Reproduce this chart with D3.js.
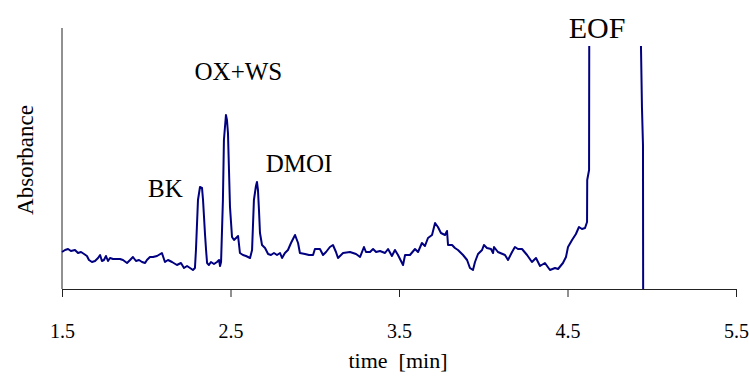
<!DOCTYPE html>
<html>
<head>
<meta charset="utf-8">
<script src="https://cdn.jsdelivr.net/npm/d3@7"></script>
<style>
  body { margin: 0; background: #fff; }
  svg text { font-family: "Liberation Serif", "Times New Roman", serif; }
</style>
</head>
<body>
<div id="chart"></div>
<script>
// electropherogram trace (absorbance in arbitrary units, null = off scale)
const time = [
  1.500, 1.518, 1.536, 1.553, 1.577, 1.595, 1.613, 1.631, 1.648, 1.660,
  1.678, 1.696, 1.714, 1.726, 1.737, 1.749, 1.761, 1.773, 1.785, 1.803,
  1.820, 1.844, 1.862, 1.886, 1.904, 1.921, 1.939, 1.957, 1.975, 1.993,
  2.004, 2.022, 2.040, 2.064, 2.093, 2.111, 2.129, 2.153, 2.182, 2.206,
  2.224, 2.242, 2.260, 2.277, 2.289, 2.295, 2.307, 2.319, 2.331, 2.337,
  2.349, 2.355, 2.361, 2.372, 2.384, 2.402, 2.420, 2.432, 2.438, 2.444,
  2.455, 2.461, 2.473, 2.479, 2.485, 2.491, 2.497, 2.509, 2.521, 2.533,
  2.545, 2.556, 2.574, 2.592, 2.616, 2.628, 2.639, 2.651, 2.657, 2.663,
  2.669, 2.675, 2.687, 2.705, 2.723, 2.740, 2.758, 2.776, 2.794, 2.806,
  2.823, 2.841, 2.859, 2.883, 2.901, 2.912, 2.942, 2.966, 2.990, 3.001,
  3.031, 3.049, 3.067, 3.090, 3.108, 3.126, 3.138, 3.168, 3.209, 3.245,
  3.269, 3.292, 3.304, 3.328, 3.346, 3.364, 3.387, 3.417, 3.435, 3.458,
  3.476, 3.494, 3.524, 3.536, 3.565, 3.595, 3.613, 3.636, 3.654, 3.672,
  3.696, 3.714, 3.731, 3.749, 3.773, 3.785, 3.791, 3.815, 3.832, 3.850,
  3.880, 3.904, 3.921, 3.939, 3.951, 3.969, 3.993, 4.004, 4.022, 4.046,
  4.058, 4.064, 4.087, 4.129, 4.147, 4.171, 4.188, 4.206, 4.230, 4.260,
  4.289, 4.313, 4.337, 4.366, 4.396, 4.426, 4.444, 4.473, 4.491, 4.503,
  4.527, 4.550, 4.568, 4.586, 4.604, 4.616, 4.617, 4.628, 4.629, 4.780,
  4.936, 4.942, 4.948, 4.949
];
const absorbance = [
  37, 39, 40, 38, 39, 36, 37, 35, 33, 29,
  27, 28, 31, 34, 28, 29, 33, 28, 31, 30,
  30, 30, 29, 26, 29, 32, 28, 29, 27, 26,
  29, 32, 32, 33, 36, 27, 29, 27, 24, 26,
  21, 23, 21, 19, 21, 39, 89, 102, 101, 89,
  54, 39, 26, 24, 27, 25, 27, 29, 23, 27,
  89, 149, 174, 169, 156, 119, 82, 52, 49, 51,
  53, 36, 34, 33, 31, 39, 89, 103, 107, 99,
  79, 56, 44, 41, 35, 34, 36, 34, 36, 31,
  36, 39, 46, 54, 46, 36, 35, 34, 34, 40,
  40, 34, 37, 42, 44, 37, 31, 36, 37, 35,
  32, 42, 37, 37, 40, 37, 38, 36, 40, 33,
  39, 34, 24, 34, 34, 40, 37, 46, 43, 51,
  54, 66, 62, 56, 54, 58, 44, 44, 41, 39,
  34, 29, 21, 19, 27, 35, 39, 44, 41, 40,
  36, 42, 37, 34, 29, 37, 42, 40, 40, 34,
  27, 31, 23, 26, 19, 21, 20, 26, 32, 42,
  49, 55, 62, 60, 61, 67, 109, 119, 243, null,
  243, 181, 144, 0
];

const xTicks = [1.5, 2.5, 3.5, 4.5, 5.5];
const xDomain = [1.5, 5.5];
const yDomain = [0, 261];

const peakNames = ['BK', 'OX+WS', 'DMOI', 'EOF'];
const peakAnchorTime = [2.114, 2.547, 2.907, 4.675];
const peakAnchorValue = [92, 209, 117, 251];

const serif = '"Liberation Serif", "Times New Roman", serif';
const width = 749, height = 376;
const margin = { top: 28, right: 13, bottom: 87, left: 62 };

const svg = d3.select('#chart').append('svg')
  .attr('width', width)
  .attr('height', height);

const x = d3.scaleLinear().domain(xDomain).range([margin.left, width - margin.right]);
const y = d3.scaleLinear().domain(yDomain).range([height - margin.bottom, margin.top]);

// x axis
const xAxis = svg.append('g')
  .attr('transform', `translate(0,${y(0)})`)
  .call(d3.axisBottom(x).tickValues(xTicks).tickFormat(d3.format('.1f')).tickSize(8).tickSizeOuter(8).tickPadding(27));
xAxis.attr('font-family', serif);
xAxis.select('.domain').attr('stroke', '#222');
xAxis.selectAll('.tick line').attr('stroke', '#222');
xAxis.selectAll('text').style('font-size', '20px').attr('fill', '#000');

// y axis (no ticks)
svg.append('line')
  .attr('x1', x(xDomain[0])).attr('x2', x(xDomain[0]))
  .attr('y1', y(yDomain[0])).attr('y2', y(yDomain[1]))
  .attr('stroke', '#222');

// trace
const line = d3.line()
  .defined((d, i) => absorbance[i] !== null)
  .x((d, i) => x(time[i]))
  .y((d, i) => y(absorbance[i]));

svg.append('path')
  .datum(time)
  .attr('d', line)
  .attr('fill', 'none')
  .attr('stroke', '#000080')
  .attr('stroke-width', 2)
  .attr('stroke-linejoin', 'round');

// peak labels
svg.selectAll('.peak')
  .data(peakNames)
  .enter()
  .append('text')
  .attr('class', 'peak')
  .attr('x', (d, i) => x(peakAnchorTime[i]))
  .attr('y', (d, i) => y(peakAnchorValue[i]))
  .attr('text-anchor', 'middle')
  .style('font-family', serif)
  .style('font-size', d => d === 'EOF' ? '30px' : '25px')
  .text(d => d);

// axis titles
svg.append('text')
  .attr('x', 398)
  .attr('y', 368)
  .attr('text-anchor', 'middle')
  .style('font-family', serif)
  .style('font-size', '22px')
  .style('white-space', 'pre')
  .text('time  [min]');

svg.append('text')
  .attr('transform', 'translate(33,160) rotate(-90)')
  .attr('text-anchor', 'middle')
  .style('font-family', serif)
  .style('font-size', '23px')
  .text('Absorbance');
</script>
</body>
</html>
